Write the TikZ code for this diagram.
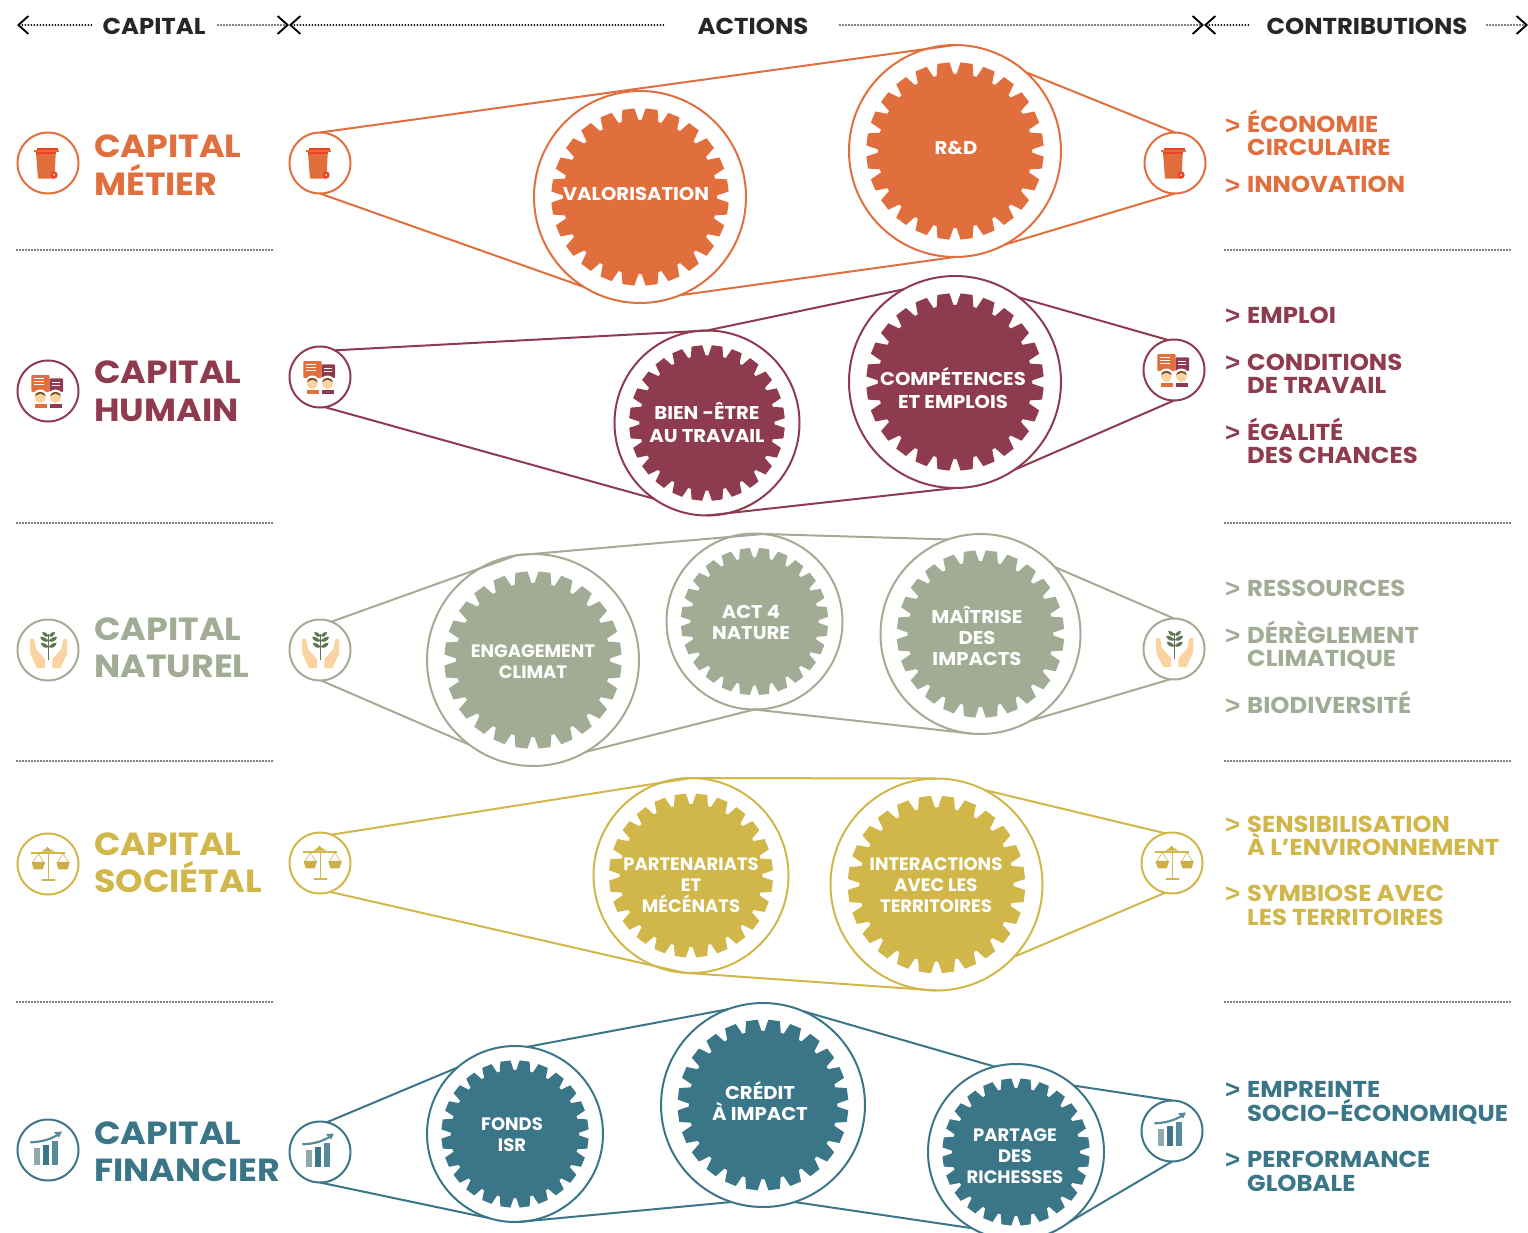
\documentclass[tikz,border=0pt]{standalone}
\usepackage{fontspec}
\setmainfont{Poppins}
\newfontfamily\widefont{Poppins}[FakeStretch=1.06]
\newfontfamily\titlefont{Poppins}[FakeStretch=1.09]
\newfontfamily\chevfont{Liberation Sans}
\usetikzlibrary{arrows.meta}

\definecolor{metier}{HTML}{E16F3E}
\definecolor{humain}{HTML}{8F3B4F}
\definecolor{naturel}{HTML}{A2AC94}
\definecolor{societal}{HTML}{D1B64A}
\definecolor{financier}{HTML}{3A7688}
\definecolor{feuille}{HTML}{5F7552}
\definecolor{peau}{HTML}{FBD3A0}

\tikzset{
  ring/.style={circle, draw, line width=2pt, inner sep=0pt, outer sep=0pt},
  belt/.style={line width=2pt},
  dots/.style={line width=1.9pt, line cap=round, dash pattern=on 0pt off 3pt},
  barb/.tip={Straight Barb[length=10pt,width=18pt,line width=1.9pt]},
  headtext/.style={font=\fontsize{23}{23}\selectfont\widefont\bfseries, text=black!85, anchor=base},
  title/.style={font=\fontsize{32}{32}\selectfont\titlefont\bfseries, anchor=base west, inner sep=0pt},
  contrib/.style={font=\fontsize{23}{23}\selectfont\widefont\bfseries, anchor=base west, inner sep=0pt},
  chevron/.style={font=\fontsize{26}{26}\selectfont\chevfont\bfseries, anchor=base west, inner sep=0pt},
  geartext/.style={font=\fontsize{18}{21}\selectfont\bfseries, text=white, align=center, inner sep=0pt},
  gearwide/.style={font=\fontsize{18.5}{21}\selectfont\widefont\bfseries, text=white, align=center, inner sep=0pt},
}

% Engrenage dans un anneau : noeud, rayon de l'anneau, couleur
\newcommand{\gearin}[3]{
  \fill[#3, shift={(#1)}, scale=#2] (0:.728)
    \foreach \a in {0,15,...,345} {
      -- (\a+1.2:.728) -- (\a+3.6:.838) -- (\a+11.4:.838) -- (\a+13.8:.728)
    } -- cycle ;
}

\newcommand{\iconbin}[1]{
  \begin{scope}[shift={(#1)}]
    \fill[metier] (-12,-10) -- (7.7,-10) -- (6.7,15.7) -- (-10,15.7) -- cycle ;
    \fill[metier] (-14.5,-12.7) rectangle (11,-10.7) ;
    \fill[red!40!metier] (-11,-15) rectangle (10,-12.7) ;
    \fill[red!40!metier] (-12,-10.7) rectangle (7.7,-9.4) ;
    \fill[red!40!metier] (6,12) circle (3.7) ;
    \fill[white] (6,12) circle (1) ;
  \end{scope}
}

\newcommand{\iconchat}[1]{
  \begin{scope}[shift={(#1)}]
    \fill[metier, rounded corners=1] (-16.7,-16) rectangle (1.7,1) ;
    \fill[humain, rounded corners=1] (1.7,-12.7) rectangle (15,1) ;
    \foreach \y in {-13,-10,-7} {
      \draw[white, line width=.7pt] (-14,\y) -- (-4,\y) ;
    }
    \foreach \y in {-9,-6} {
      \draw[white, line width=.7pt] (4,\y) -- (12,\y) ;
    }
    \foreach \x in {-7.7,7.5} {
      \fill[white] (\x,6) circle (7.5) ;
      \fill[peau] (\x,6.5) circle (5.5) ;
      \fill[brown!60!black] (\x-5.5,5) .. controls (\x-5,-.5) and (\x+5,-.5) .. (\x+5.5,5) -- (\x,2.5) -- cycle ;
    }
    \fill[metier] (-13.3,12.7) rectangle (-1,17) ;
    \fill[humain] (1.7,12.7) rectangle (14,17) ;
  \end{scope}
}

\newcommand{\iconplant}[1]{
  \begin{scope}[shift={(#1)}]
    \foreach \s in {1,-1} {
      \begin{scope}[xshift=.7, xscale=\s]
        \fill[peau] (18.7,-11) -- (14.7,-11) -- (12.7,-1) -- (3.7,9) -- (3.7,18) -- (11.7,18) -- (18.4,4) -- cycle ;
        \foreach \y/\w in {-3/8,-9/8.5,-14/6.5} {
          \fill[feuille] (0,\y) .. controls (2,\y-3) and (\w-2,\y-5) .. (\w,\y-4) .. controls (\w-1,\y) and (3,\y+2) .. (0,\y) -- cycle ;
        }
      \end{scope}
    }
    \draw[feuille, line width=1.2pt] (.7,-16) -- (.7,10) ;
  \end{scope}
}

\newcommand{\iconscale}[1]{
  \begin{scope}[shift={(#1)}]
    \fill[societal!85!brown] (-6.7,-12.5) -- (-2.5,-15) -- (-.5,-17.5) -- (1.5,-15) -- (6.7,-12.5) -- cycle ;
    \draw[societal, line width=1.7pt] (-16.7,-11.3) -- (16.7,-11.3) ;
    \draw[societal, line width=1.3pt] (.7,-11.3) -- (.7,15.7) ;
    \draw[societal, line width=2pt, line cap=round] (-5.7,15.7) -- (6.7,15.7) ;
    \foreach \x in {-9.7,15} {
      \draw[societal, line width=.6pt] (\x-5.5,-1.7) -- (\x,-10.5) -- (\x+5.5,-1.7) ;
      \fill[societal!85!brown] (\x-6.5,-2.2) -- (\x+6.5,-2.2) -- (\x+6.5,-.8) -- (\x+4.5,5.3) -- (\x-4.5,5.3) -- (\x-6.5,-.8) -- cycle ;
    }
  \end{scope}
}

\newcommand{\iconchart}[1]{
  \begin{scope}[shift={(#1)}]
    \fill[financier!55!white!80!gray] (-14.3,-2) rectangle (-8.3,15) ;
    \fill[financier] (-5,-5.3) rectangle (1,15) ;
    \fill[financier!85!white] (4.3,-8.7) rectangle (10.3,15) ;
    \draw[financier!85!white, line width=2.2pt] (-17.7,-7.7) .. controls (-8,-8) and (2,-10) .. (11,-16) ;
    \fill[financier!85!white] (14,-18.5) -- (6,-17.8) -- (11,-12.5) -- cycle ;
  \end{scope}
}

\begin{document}
\begin{tikzpicture}[x=1pt, y=-1pt]

  % Cadre de l'image
  \useasboundingbox (0,0) rectangle (1528,1233) ;

  %%%%%%%%%%%%%%%%%%%%%%%%%%%%%%%%% Bandeau du haut %%%%%%%%%%%%%%%%%%%%%%%%%%%%%%%%%%%%
  \draw (154,35) node[headtext] (hcapital) {CAPITAL} ;
  \draw (753,35) node[headtext] (hactions) {ACTIONS} ;
  \draw (1367,35) node[headtext] (hcontrib) {CONTRIBUTIONS} ;

  \coordinate (h1) at (17,25) ;
  \coordinate (h2) at (94,25) ;
  \coordinate (h3) at (218,25) ;
  \coordinate (h4) at (289,25) ;
  \coordinate (h5) at (666,25) ;
  \coordinate (h6) at (840,25) ;
  \coordinate (h7) at (1204,25) ;
  \coordinate (h8) at (1249,25) ;
  \coordinate (h9) at (1487,25) ;
  \coordinate (h10) at (1528,25) ;

  \draw[dots, {barb}-] (h1) -- (h2) ;
  \draw[dots, -{barb}] (h3) -- (h4) ;
  \draw[dots, {barb}-] (h4) -- (h5) ;
  \draw[dots, -{barb}] (h6) -- (h7) ;
  \draw[dots, {barb}-] (h7) -- (h8) ;
  \draw[dots, -{barb}] (h9) -- (h10) ;

  %%%%%%%%%%%%%%%%%%%%%%%%%%%%%%%%% Separateurs %%%%%%%%%%%%%%%%%%%%%%%%%%%%%%%%%%%%
  \foreach \y in {250,523,761,1002} {
    \coordinate (sa\y) at (17,\y) ;
    \coordinate (sb\y) at (273,\y) ;
    \coordinate (sc\y) at (1225,\y) ;
    \coordinate (sd\y) at (1510,\y) ;
    \draw[dots] (sa\y) -- (sb\y) ;
    \draw[dots] (sc\y) -- (sd\y) ;
  }

  %%%%%%%%%%%%%%%%%%%%%%%%%%%%%%%%% Capital metier %%%%%%%%%%%%%%%%%%%%%%%%%%%%%%%%%%%%
  \draw (48,163) node[ring, metier, minimum size=61pt] (ma) {} ;
  \draw (320,163) node[ring, metier, minimum size=61pt] (mb) {} ;
  \draw (1175,163) node[ring, metier, minimum size=61pt] (mc) {} ;
  \draw (640,197) node[ring, metier, minimum size=212pt] (valo) {} ;
  \draw (955,151) node[ring, metier, minimum size=212pt] (rd) {} ;

  \gearin{valo}{106}{metier}
  \gearin{rd}{106}{metier}
  \foreach \n in {ma,mb,mc} {
    \iconbin{\n}
  }

  \draw[belt, metier] (mb.north) -- (rd.north) ;
  \draw[belt, metier] (rd.48) -- (mc.north) ;
  \draw[belt, metier] (mb.south) -- (valo.238) ;
  \draw[belt, metier] (valo.292) -- (rd.south) ;
  \draw[belt, metier] (rd.298) -- (mc.south) ;

  \draw (636,193.5) node[gearwide] (tvalo) {VALORISATION} ;
  \draw (956,147.5) node[gearwide] (trd) {R\&D} ;

  %%%%%%%%%%%%%%%%%%%%%%%%%%%%%%%%% Capital humain %%%%%%%%%%%%%%%%%%%%%%%%%%%%%%%%%%%%
  \draw (48,391) node[ring, humain, minimum size=61pt] (ha) {} ;
  \draw (320,377) node[ring, humain, minimum size=61pt] (hb) {} ;
  \draw (1174,370) node[ring, humain, minimum size=61pt] (hc) {} ;
  \draw (707,423) node[ring, humain, minimum size=185pt] (bien) {} ;
  \draw (955,382) node[ring, humain, minimum size=212pt] (comp) {} ;

  \gearin{bien}{93}{humain}
  \gearin{comp}{106}{humain}
  \foreach \n in {ha,hb,hc} {
    \iconchat{\n}
  }

  \draw[belt, humain] (hb.61) -- (bien.north) ;
  \draw[belt, humain] (bien.north) -- (comp.119) ;
  \draw[belt, humain] (comp.53) -- (hc.101) ;
  \draw[belt, humain] (hb.279) -- (bien.235) ;
  \draw[belt, humain] (bien.south) -- (comp.south) ;
  \draw[belt, humain] (comp.304) -- (hc.south) ;

  \draw (707,422) node[gearwide] (tbien) {BIEN -ÊTRE\\[2pt]AU TRAVAIL} ;
  \draw (953,388) node[gearwide] (tcomp) {COMPÉTENCES\\[2pt]ET EMPLOIS} ;

  %%%%%%%%%%%%%%%%%%%%%%%%%%%%%%%%% Capital naturel %%%%%%%%%%%%%%%%%%%%%%%%%%%%%%%%%%%%
  \draw (48,650) node[ring, naturel, minimum size=61pt] (na) {} ;
  \draw (320,650) node[ring, naturel, minimum size=61pt] (nb) {} ;
  \draw (1174,649) node[ring, naturel, minimum size=61pt] (nc) {} ;
  \draw (533,660) node[ring, naturel, minimum size=212pt] (enga) {} ;
  \draw (754.5,621.5) node[ring, naturel, minimum size=176pt] (act) {} ;
  \draw (980.5,634) node[ring, naturel, minimum size=200pt] (mait) {} ;

  \gearin{enga}{106}{naturel}
  \gearin{act}{88}{naturel}
  \gearin{mait}{100}{naturel}
  \foreach \n in {na,nb,nc} {
    \iconplant{\n}
  }

  \draw[belt, naturel] (nb.68) -- (enga.99) ;
  \draw[belt, naturel] (enga.99) -- (act.84) ;
  \draw[belt, naturel] (act.84) -- (mait.109) ;
  \draw[belt, naturel] (mait.42) -- (nc.north) ;
  \draw[belt, naturel] (nb.272) -- (enga.233) ;
  \draw[belt, naturel] (enga.300) -- (act.south) ;
  \draw[belt, naturel] (act.south) -- (mait.265) ;
  \draw[belt, naturel] (mait.300) -- (nc.263) ;

  \draw (533,662) node[geartext] (tenga) {ENGAGEMENT\\CLIMAT} ;
  \draw (751,622) node[gearwide] (tact) {ACT 4\\NATURE} ;
  \draw (977,636) node[gearwide] (tmait) {MAÎTRISE\\DES\\IMPACTS} ;

  %%%%%%%%%%%%%%%%%%%%%%%%%%%%%%%%% Capital societal %%%%%%%%%%%%%%%%%%%%%%%%%%%%%%%%%%%%
  \draw (48,864) node[ring, societal, minimum size=61pt] (sa) {} ;
  \draw (320,863) node[ring, societal, minimum size=61pt] (sb) {} ;
  \draw (1172,863) node[ring, societal, minimum size=61pt] (sc) {} ;
  \draw (691,875.5) node[ring, societal, minimum size=195pt] (part) {} ;
  \draw (936.5,884.5) node[ring, societal, minimum size=212pt] (inte) {} ;

  \gearin{part}{98}{societal}
  \gearin{inte}{106}{societal}
  \foreach \n in {sa,sb,sc} {
    \iconscale{\n}
  }

  \draw[belt, societal] (sb.68) -- (part.north) ;
  \draw[belt, societal] (part.north) -- (inte.north) ;
  \draw[belt, societal] (inte.63) -- (sc.103) ;
  \draw[belt, societal] (sb.289) -- (part.266) ;
  \draw[belt, societal] (part.266) -- (inte.south) ;
  \draw[belt, societal] (inte.317) -- (sc.257) ;

  \draw (691,885) node[geartext] (tpart) {PARTENARIATS\\ET\\MÉCÉNATS} ;
  \draw (936,885) node[geartext] (tinte) {INTERACTIONS\\AVEC LES\\TERRITOIRES} ;

  %%%%%%%%%%%%%%%%%%%%%%%%%%%%%%%%% Capital financier %%%%%%%%%%%%%%%%%%%%%%%%%%%%%%%%%%%%
  \draw (48,1150) node[ring, financier, minimum size=61pt] (fa) {} ;
  \draw (320,1152) node[ring, financier, minimum size=61pt] (fb) {} ;
  \draw (1172,1131) node[ring, financier, minimum size=61pt] (fc) {} ;
  \draw (515,1134) node[ring, financier, minimum size=176pt] (fond) {} ;
  \draw (763,1105) node[ring, financier, minimum size=204pt] (cred) {} ;
  \draw (1016,1152) node[ring, financier, minimum size=176pt] (parta) {} ;

  \gearin{fond}{88}{financier}
  \gearin{cred}{102}{financier}
  \gearin{parta}{88}{financier}
  \foreach \n in {fa,fb,fc} {
    \iconchart{\n}
  }

  \draw[belt, financier] (fb.77) -- (fond.131) ;
  \draw[belt, financier] (fond.82) -- (cred.110) ;
  \draw[belt, financier] (cred.67) -- (parta.104) ;
  \draw[belt, financier] (parta.49) -- (fc.north) ;
  \draw[belt, financier] (fb.south) -- (fond.253) ;
  \draw[belt, financier] (fond.272) -- (cred.252) ;
  \draw[belt, financier] (cred.288) -- (parta.240) ;
  \draw[belt, financier] (parta.307) -- (fc.south) ;

  \draw (512,1135) node[geartext] (tfond) {FONDS\\ISR} ;
  \draw (760,1101) node[gearwide] (tcred) {CRÉDIT\\À IMPACT} ;
  \draw (1015,1156) node[geartext] (tparta) {PARTAGE\\DES\\RICHESSES} ;

  %%%%%%%%%%%%%%%%%%%%%%%%%%%%%%%%% Titres de gauche %%%%%%%%%%%%%%%%%%%%%%%%%%%%%%%%%%%%
  \foreach \y/\t/\c in {158/CAPITAL/metier, 196/MÉTIER/metier,
                        383/CAPITAL/humain, 421/HUMAIN/humain,
                        640/CAPITAL/naturel, 677/NATUREL/naturel,
                        855/CAPITAL/societal, 892/SOCIÉTAL/societal,
                        1144/CAPITAL/financier, 1181/FINANCIER/financier} {
    \draw (94,\y) node[title, \c] (title\y) {\t} ;
  }

  %%%%%%%%%%%%%%%%%%%%%%%%%%%%%%%%% Contributions %%%%%%%%%%%%%%%%%%%%%%%%%%%%%%%%%%%%
  \foreach \y/\t/\c in {133/ÉCONOMIE/metier, 156/CIRCULAIRE/metier, 193/INNOVATION/metier,
                        323/EMPLOI/humain, 370/CONDITIONS/humain, 393/DE TRAVAIL/humain,
                        440/ÉGALITÉ/humain, 463/DES CHANCES/humain,
                        596/RESSOURCES/naturel, 643/DÉRÈGLEMENT/naturel,
                        666/CLIMATIQUE/naturel, 713/BIODIVERSITÉ/naturel,
                        832/SENSIBILISATION/societal, 855/À L’ENVIRONNEMENT/societal,
                        901/SYMBIOSE AVEC/societal, 925/LES TERRITOIRES/societal,
                        1097/EMPREINTE/financier, 1121/SOCIO-ÉCONOMIQUE/financier,
                        1167/PERFORMANCE/financier, 1191/GLOBALE/financier} {
    \draw (1247,\y) node[contrib, \c] (contrib\y) {\t} ;
  }

  % Chevrons devant chaque contribution
  \foreach \y/\c in {133/metier, 193/metier, 323/humain, 370/humain, 440/humain,
                     596/naturel, 643/naturel, 713/naturel, 832/societal, 901/societal,
                     1097/financier, 1167/financier} {
    \draw (1225,\y+1.5) node[chevron, \c] (chevron\y) {>} ;
  }

\end{tikzpicture}
\end{document}
